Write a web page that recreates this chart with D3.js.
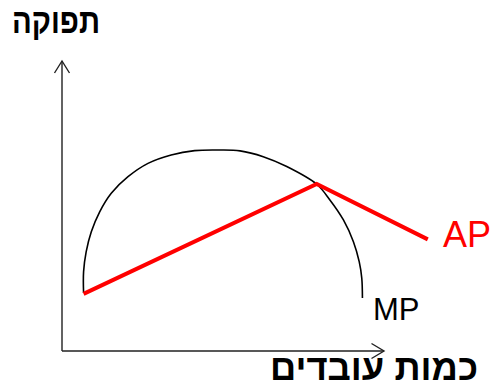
<!DOCTYPE html>
<html>
<head>
<meta charset="utf-8">
<script src="https://cdn.jsdelivr.net/npm/d3@7"></script>
<style>
  body { margin: 0; background: #fff; }
  svg { display: block; font-family: "Liberation Sans", Arial, sans-serif; }
</style>
</head>
<body>
<svg id="chart" width="491" height="387"></svg>
<script>
// axis titles
const yTitle = "תפוקה";
const xTitle = "כמות עובדים";

// AP curve (workers, output)
const apWorkers = [6.7, 79.1, 113.6];
const apOutput = [19.7, 57.6, 38.5];

// MP curve
const mpWorkers = [6.7, 6.7, 7.5, 9.1, 11.7, 15.3, 20.5, 26.7, 33.9, 41.2, 49.1, 55.3, 62.5, 69.8, 79.1, 83.2, 87.4, 90.5, 92.3, 93.1, 93.3];
const mpOutput = [20.0, 27.3, 34.2, 41.1, 48.0, 54.4, 60.1, 64.7, 67.6, 69.1, 69.3, 69.0, 67.0, 63.6, 57.5, 52.1, 45.2, 37.7, 30.8, 25.1, 18.3];

const svg = d3.select("#chart");

const x = d3.scaleLinear().domain([0, 100]).range([62, 384]);
const y = d3.scaleLinear().domain([0, 100]).range([351, 61]);

const line = d3.line()
  .x(d => x(d[0]))
  .y(d => y(d[1]));

// Axes
const axes = svg.append("g")
  .attr("fill", "none")
  .attr("stroke", "#222")
  .attr("stroke-width", 1.4);

axes.append("path")
  .attr("d", `M${x(0)},${y(0)}V${y(100)}M${x(0)},${y(0)}H${x(100)}`);

// arrow heads
axes.append("path")
  .attr("d", `M${x(0) - 7.5},${y(100) + 12}L${x(0)},${y(100)}L${x(0) + 7.5},${y(100) + 12}`);
axes.append("path")
  .attr("d", `M${x(100) - 12.5},${y(0) - 7.5}L${x(100)},${y(0)}L${x(100) - 12.5},${y(0) + 7.5}`);

// MP
svg.append("path")
  .datum(d3.zip(mpWorkers, mpOutput))
  .attr("fill", "none")
  .attr("stroke", "#000")
  .attr("stroke-width", 1.6)
  .attr("d", line.curve(d3.curveCatmullRom.alpha(0.5)));

// AP
svg.append("path")
  .datum(d3.zip(apWorkers, apOutput))
  .attr("fill", "none")
  .attr("stroke", "#ff0000")
  .attr("stroke-width", 4)
  .attr("stroke-linejoin", "miter")
  .attr("d", line.curve(d3.curveLinear));

// Labels
svg.append("text")
  .attr("x", 12)
  .attr("y", 33)
  .attr("font-size", "35px")
  .attr("font-weight", "bold")
  .attr("textLength", 88)
  .attr("lengthAdjust", "spacingAndGlyphs")
  .attr("fill", "#000")
  .text(yTitle);

svg.append("text")
  .attr("x", 270)
  .attr("y", 380)
  .attr("font-size", "36px")
  .attr("font-weight", "bold")
  .attr("textLength", 208)
  .attr("lengthAdjust", "spacingAndGlyphs")
  .attr("fill", "#000")
  .text(xTitle);

svg.append("text")
  .attr("x", 443)
  .attr("y", 247)
  .attr("font-size", "36px")
  .attr("fill", "#ff0000")
  .text("AP");

svg.append("text")
  .attr("x", 373)
  .attr("y", 320)
  .attr("font-size", "31px")
  .attr("fill", "#000")
  .text("MP");
</script>
</body>
</html>
